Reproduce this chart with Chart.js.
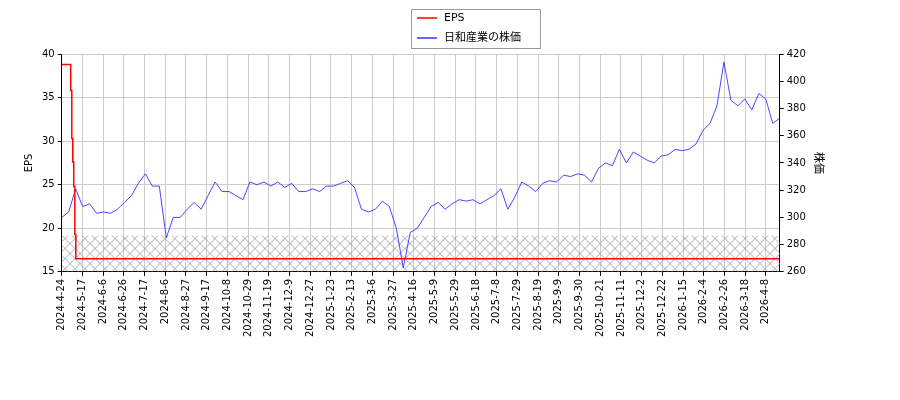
<!DOCTYPE html>
<html>
<head>
<meta charset="utf-8">
<script src="https://cdn.jsdelivr.net/npm/chart.js@4/dist/chart.umd.min.js"></script>
<style>
  body { margin: 0; background: #fff; }
  #wrap { width: 900px; height: 400px; }
</style>
</head>
<body>
<div id="wrap"><canvas id="chart"></canvas></div>
<script>
// tick labels, one every 15 trading days
const tickLabels = ['2024-4-24','2024-5-17','2024-6-6','2024-6-26','2024-7-17','2024-8-6','2024-8-27','2024-9-17',
  '2024-10-8','2024-10-29','2024-11-19','2024-12-9','2024-12-27','2025-1-23','2025-2-13','2025-3-6','2025-3-27',
  '2025-4-16','2025-5-9','2025-5-29','2025-6-18','2025-7-8','2025-7-29','2025-8-19','2025-9-9','2025-9-30',
  '2025-10-21','2025-11-11','2025-12-2','2025-12-22','2026-1-15','2026-2-4','2026-2-26','2026-3-18','2026-4-8']

// EPS line corners (trading day index, value)
const epsDays = [0, 6.5, 6.5, 7.3, 7.3, 8, 8, 8.7, 8.7, 9.5, 9.5, 10.2, 10.2, 520]
const epsValues = [38.8, 38.8, 35.8, 35.8, 30.3, 30.3, 27.6, 27.6, 24.8, 24.8, 19.3, 19.3, 16.5, 16.5]

// stock price, sampled about every 5 trading days
const prices = [
  300, 304, 321, 308, 310, 303, 304, 303, 306, 311, 316, 325, 332, 323, 323, 285, 300, 300, 306, 311, 306, 316, 326, 319, 319,
  316, 313, 326, 324, 326, 323, 326, 322, 325, 319, 319, 321, 319, 323, 323, 325, 327, 322, 306, 304, 306, 312, 308, 292, 263, 289, 292, 300,
  308, 311, 306, 310, 313, 312, 313, 310, 313, 316, 321, 306, 315, 326, 323, 319, 325, 327, 326, 331, 330, 332, 331, 326, 336, 340, 338, 350,
  340, 348, 345, 342, 340, 345, 346, 350, 349, 350, 354, 364, 369, 382, 414, 386, 382, 387, 379, 391, 387, 369, 373
]
const lastDay = 520

const epsData = epsDays.map((d, i) => ({ x: d, y: epsValues[i] }))
const priceData = prices.map((p, i) => ({ x: i * lastDay / (prices.length - 1), y: p }))

const font = { family: 'DejaVu Sans', size: 10 }

// crosshatched band on the EPS axis
const hatchBand = {
  id: 'hatchBand',
  beforeDatasetsDraw(chart) {
    const { ctx, chartArea, scales } = chart
    const top = scales.y.getPixelForValue(19.2)
    const bottom = scales.y.getPixelForValue(15)
    ctx.save()
    ctx.beginPath()
    ctx.rect(chartArea.left, top, chartArea.right - chartArea.left, bottom - top)
    ctx.clip()
    ctx.strokeStyle = '#999'
    ctx.lineWidth = 0.8
    const step = 10
    ctx.beginPath()
    for (let x = chartArea.left - 60; x < chartArea.right + 60; x += step) {
      ctx.moveTo(x, top); ctx.lineTo(x + (bottom - top), bottom)
      ctx.moveTo(x, bottom); ctx.lineTo(x + (bottom - top), top)
    }
    ctx.stroke()
    ctx.restore()
  }
}

// matplotlib-like legend box, two rows
const legendBox = {
  id: 'legendBox',
  afterDraw(chart) {
    const ctx = chart.ctx
    const x = 411, y = 9, w = 129, h = 39
    ctx.save()
    ctx.fillStyle = '#fff'
    ctx.fillRect(x, y, w, h)
    ctx.strokeStyle = '#999'
    ctx.lineWidth = 1
    ctx.strokeRect(x + 0.5, y + 0.5, w, h)
    ctx.font = '11px "DejaVu Sans", "Noto Sans CJK JP"'
    ctx.textBaseline = 'middle'
    chart.data.datasets.forEach((ds, i) => {
      const cy = y + 9 + i * 20
      ctx.strokeStyle = ds.borderColor
      ctx.lineWidth = 1.5
      ctx.beginPath()
      ctx.moveTo(x + 6, cy); ctx.lineTo(x + 26, cy)
      ctx.stroke()
      ctx.fillStyle = '#000'
      ctx.fillText(ds.label, x + 33, cy)
    })
    ctx.restore()
  }
}

new Chart(document.getElementById('chart'), {
  type: 'line',
  data: {
    datasets: [{
      label: 'EPS',
      data: epsData,
      borderColor: '#ff0000',
      borderWidth: 1.5,
      pointRadius: 0,
      yAxisID: 'y'
    }, {
      label: '日和産業の株価',
      data: priceData,
      borderColor: '#3333ff',
      borderWidth: 0.9,
      pointRadius: 0,
      yAxisID: 'y1'
    }]
  },
  options: {
    responsive: true,
    maintainAspectRatio: false,
    animation: false,
    layout: { padding: { left: 19, right: 70, top: 54, bottom: 60 } },
    plugins: {
      tooltip: { enabled: false },
      legend: { display: false }
    },
    scales: {
      x: {
        type: 'linear',
        min: 0,
        max: lastDay,
        ticks: {
          autoSkip: false,
          maxRotation: 90,
          minRotation: 90,
          font: font,
          color: '#000',
          callback: (v) => tickLabels[v / 15] || ''
        },
        afterBuildTicks: (axis) => { axis.ticks = tickLabels.map((_, i) => ({ value: i * 15 })) },
        grid: { color: '#cccccc', tickColor: '#000', tickLength: 4 },
        border: { color: '#000' }
      },
      y: {
        position: 'left',
        min: 15,
        max: 40,
        ticks: { stepSize: 5, font: font, color: '#000' },
        grid: { color: '#cccccc', tickColor: '#000', tickLength: 4 },
        border: { color: '#000' },
        title: { display: true, text: 'EPS', font: font, color: '#000' }
      },
      y1: {
        position: 'right',
        min: 260,
        max: 420,
        ticks: { stepSize: 20, font: font, color: '#000' },
        grid: { drawOnChartArea: false, tickColor: '#000', tickLength: 4 },
        border: { color: '#000' },
        title: { display: true, text: '株価', font: { family: 'Noto Sans CJK JP', size: 11 }, color: '#000' }
      }
    }
  },
  plugins: [hatchBand, legendBox]
})
</script>
</body>
</html>
